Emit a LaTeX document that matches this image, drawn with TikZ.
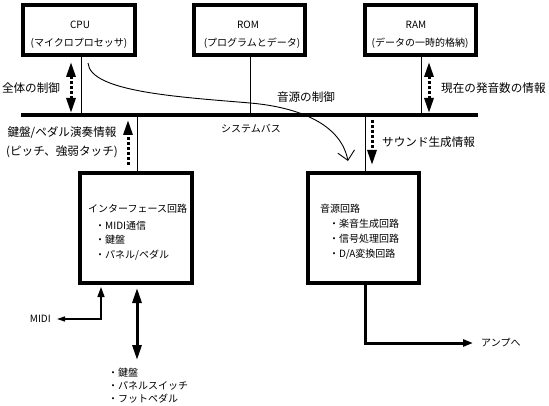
\documentclass[tikz,border=0pt]{standalone}
\usepackage{fontspec}
\setmainfont{Noto Sans CJK JP}
\usetikzlibrary{arrows.meta,calc}
\begin{document}
\begin{tikzpicture}[x=1pt,y=-1pt,
  box/.style={draw,line width=4pt,inner sep=0pt,outer sep=2pt,minimum height=50pt},
  bigbox/.style={draw,line width=4pt,inner sep=0pt,outer sep=2pt,minimum height=110pt},
  txt/.style={inner sep=0pt,font=\fontsize{10}{12}\selectfont},
  lbl/.style={inner sep=0pt,font=\fontsize{11.6}{14}\selectfont},
  conn/.style={line width=0.9pt},
  dotarr/.style={line width=3pt,dash pattern=on 3pt off 2pt},
  dtip/.tip={Triangle[length=15pt,width=9pt]},
  ktip/.tip={Triangle[length=15pt,width=9pt]},
  otip/.tip={Triangle[length=10pt,width=7pt]},
  mtip/.tip={Triangle[length=8pt,width=5pt]},
  vtip/.tip={Straight Barb[length=9pt,width=17pt]}]
\useasboundingbox (0,0) rectangle (549,406);

% boxes
\node[box,minimum width=112pt] (cpu) at (79,30) {};
\node[box,minimum width=111pt] (rom) at (249.5,30) {};
\node[box,minimum width=111pt] (ram) at (420.5,30) {};
\node[bigbox,minimum width=112pt] (intf) at (136,228) {};
\node[bigbox,minimum width=111pt] (snd) at (363.5,228) {};
\node[fill=black,minimum width=457pt,minimum height=4pt,inner sep=0pt,outer sep=0pt] (bus) at (249.5,115) {};

% box texts
\node[txt] (cpu1) at (80,25) {CPU};
\node[txt] (cpu2) at (79,43) {(マイクロプロセッサ)};
\node[txt] (rom1) at (248,25) {ROM};
\node[txt] (rom2) at (252,43) {(プログラムとデータ)};
\node[txt] (ram1) at (416,25) {RAM};
\node[txt] (ram2) at (420,43) {(データの一時的格納)};

\node[txt,anchor=west] (if0) at (88,209) {インターフェース回路};
\node[txt,anchor=west] (if1) at (95,226) {・MIDI通信};
\node[txt,anchor=west] (if2) at (95,240) {・鍵盤};
\node[txt,anchor=west] (if3) at (95,255) {・パネル/ペダル};

\node[txt,anchor=west] (sd0) at (320,209) {音源回路};
\node[txt,anchor=west] (sd1) at (329,224) {・楽音生成回路};
\node[txt,anchor=west] (sd2) at (329,239) {・信号処理回路};
\node[txt,anchor=west] (sd3) at (329,254) {・D/A変換回路};

% labels
\node[lbl] (lall) at (31,88) {全体の制御};
\node[lbl,anchor=west] (lnow) at (441,88) {現在の発音数の情報};
\node[lbl] (lsrc) at (306,97) {音源の制御};
\node[txt] (lbus) at (251,129) {システムバス};
\node[lbl] (lkb1) at (62,133) {鍵盤/ペダル演奏情報};
\node[lbl] (lkb2) at (62,152) {(ピッチ、強弱タッチ)};
\node[lbl,anchor=west] (lsnd) at (382,142) {サウンド生成情報};

\node[txt,anchor=east] (midi) at (51,319) {MIDI};
\node[txt,anchor=west] (amp) at (481,343) {アンプへ};

\node[txt,anchor=west] (kb1) at (108,373) {・鍵盤};
\node[txt,anchor=west] (kb2) at (108,386) {・パネルスイッチ};
\node[txt,anchor=west] (kb3) at (108,399) {・フットペダル};

% bus connections
\draw[conn] (cpu.south -| 81,0) -- (bus.north -| 81,0);
\draw[conn] (rom.south -| 250,0) -- (bus.north -| 250,0);
\draw[conn] (ram.south -| 421,0) -- (bus.north -| 421,0);
\draw[conn] (bus.south -| 137,0) -- (intf.north -| 137,0);
\draw[conn] (bus.south -| 365,0) -- (snd.north -| 365,0);

% dotted information arrows
\draw[dotarr,dtip-dtip,shorten <=5pt] (cpu.south -| 71,0) -- (bus.north -| 71,0);
\draw[dotarr,dtip-dtip,shorten <=5pt] (ram.south -| 429,0) -- (bus.north -| 429,0);
\draw[dotarr,-dtip,shorten <=6pt,shorten >=3pt] (intf.north -| 128,0) -- (bus.south -| 128,0);
\draw[dotarr,-dtip,shorten <=3pt,shorten >=6pt] (bus.south -| 372,0) -- (snd.north -| 372,0);

% control curve
\coordinate (cs) at (88,63);
\coordinate (ce) at (348,161);
\draw[conn,-vtip] (cs) .. controls (90,92) and (180,97) .. (250,103)
  .. controls (290,106.4) and (340,120) .. (ce);

% outputs
\draw[line width=3pt,-otip] (snd.south -| 365,0) |- ([xshift=-8pt]amp.west);
\draw[line width=1.3pt,mtip-otip,shorten >=2pt] ([xshift=6pt]midi.east) -| (intf.south -| 101,0);
\coordinate (kb) at (137,360);
\draw[line width=3pt,ktip-ktip,shorten <=3pt] (intf.south -| 137,0) -- (kb);
\end{tikzpicture}
\end{document}
